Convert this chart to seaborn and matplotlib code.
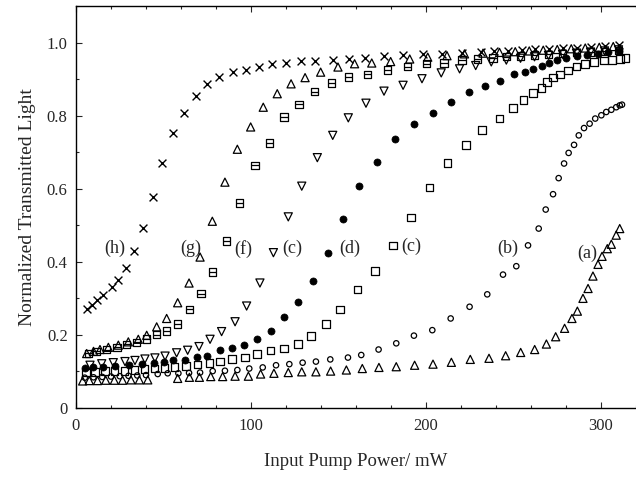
#!/usr/bin/env python3
# Normalized transmitted light vs input pump power, series (a)-(h)

import matplotlib
matplotlib.use("Agg")
import seaborn as sns
from matplotlib import pyplot as plt
from matplotlib import ticker as plticker
from matplotlib.path import Path

# -------------------------------------------------------------------
# DATA
# -------------------------------------------------------------------

# (h) crosses
h_x = [6.5, 9.0, 11.8, 15.6, 20.4, 24.2, 28.6, 33.3, 38.5, 43.8, 49.4, 55.6,
       61.9, 68.6, 75.0, 81.9, 89.5, 97.0, 104.6, 112.2, 119.8, 128.4, 136.6,
       146.9, 155.8, 165.0, 176.0, 186.9, 198.3, 209.3, 220.6, 231.6, 238.9,
       246.9, 255.0, 262.0, 270.0, 278.0, 286.0, 294.0, 302.0, 310.0]
h_y = [0.270, 0.281, 0.295, 0.309, 0.331, 0.350, 0.382, 0.429, 0.493, 0.577,
       0.670, 0.752, 0.807, 0.855, 0.887, 0.905, 0.919, 0.926, 0.933, 0.940,
       0.943, 0.949, 0.949, 0.953, 0.955, 0.958, 0.962, 0.966, 0.969, 0.969,
       0.971, 0.974, 0.976, 0.978, 0.979, 0.981, 0.983, 0.985, 0.986, 0.988,
       0.990, 0.992]

# (g) open triangles
g_x = [6.1, 10.0, 13.7, 18.5, 24.2, 29.9, 35.6, 40.4, 46.1, 51.8, 58.1, 64.6,
       70.9, 77.9, 85.1, 92.2, 99.8, 107.0, 115.0, 122.9, 130.9, 139.8, 149.7,
       159.2, 169.0, 179.8, 190.7, 201.0, 212.0, 222.0, 232.6, 242.0, 251.0,
       259.0, 267.0, 275.0, 283.0, 291.0, 299.0, 307.0]
g_y = [0.149, 0.155, 0.160, 0.166, 0.172, 0.181, 0.188, 0.199, 0.222, 0.245,
       0.288, 0.342, 0.413, 0.511, 0.618, 0.708, 0.769, 0.823, 0.860, 0.887,
       0.904, 0.919, 0.933, 0.942, 0.944, 0.948, 0.955, 0.960, 0.964, 0.969,
       0.971, 0.973, 0.975, 0.977, 0.979, 0.981, 0.983, 0.985, 0.987, 0.989]

# (f) boxed minus
f_x = [7.2, 11.8, 17.5, 23.4, 29.0, 34.6, 40.4, 46.1, 51.8, 58.1, 64.8, 71.4,
       77.9, 86.1, 93.3, 102.3, 110.5, 118.9, 127.4, 136.2, 145.9, 155.8,
       166.5, 177.9, 189.3, 200.2, 210.3, 220.6, 229.3, 238.3, 246.0, 254.0,
       262.0, 270.0, 278.0, 286.0, 294.0, 302.0, 310.0]
f_y = [0.150, 0.155, 0.160, 0.166, 0.174, 0.180, 0.189, 0.201, 0.211, 0.230,
       0.270, 0.313, 0.372, 0.457, 0.561, 0.664, 0.725, 0.796, 0.831, 0.866,
       0.889, 0.906, 0.913, 0.925, 0.934, 0.942, 0.944, 0.952, 0.955, 0.958,
       0.961, 0.963, 0.966, 0.968, 0.970, 0.972, 0.974, 0.976, 0.978]

# (c) left, down triangles
e_x = [8.0, 14.7, 21.3, 28.0, 33.7, 39.4, 45.1, 50.9, 57.5, 63.8, 70.3, 76.6,
       83.2, 90.9, 97.5, 105.1, 112.8, 121.3, 129.0, 137.9, 146.7, 155.6,
       165.7, 176.0, 186.9, 197.7, 208.7, 219.2, 228.4, 237.3, 245.9, 254.0,
       262.0, 270.0, 278.0, 286.0, 294.0, 302.0, 310.0]
e_y = [0.117, 0.121, 0.124, 0.127, 0.130, 0.134, 0.137, 0.142, 0.151, 0.158,
       0.168, 0.188, 0.209, 0.236, 0.279, 0.342, 0.425, 0.523, 0.607, 0.685,
       0.746, 0.794, 0.834, 0.867, 0.883, 0.901, 0.917, 0.928, 0.937, 0.947,
       0.952, 0.957, 0.961, 0.965, 0.968, 0.971, 0.974, 0.977, 0.980]

# (d) filled circles
d_x = [5.2, 9.9, 15.6, 22.3, 30.0, 37.8, 44.4, 50.0, 55.6, 62.3, 69.0, 75.0,
       82.3, 89.3, 96.0, 103.2, 111.2, 118.9, 126.6, 135.4, 143.8, 152.8,
       161.9, 172.2, 182.3, 193.1, 203.8, 214.1, 224.4, 233.9, 242.1, 250.0,
       256.4, 261.1, 266.0, 270.0, 275.0, 280.0, 286.0, 292.0, 298.0, 304.0,
       310.0]
d_y = [0.110, 0.113, 0.113, 0.115, 0.117, 0.120, 0.124, 0.127, 0.130, 0.132,
       0.139, 0.142, 0.158, 0.165, 0.172, 0.188, 0.211, 0.250, 0.290, 0.347,
       0.424, 0.518, 0.607, 0.673, 0.735, 0.776, 0.807, 0.838, 0.865, 0.880,
       0.896, 0.913, 0.919, 0.928, 0.937, 0.945, 0.952, 0.957, 0.962, 0.966,
       0.970, 0.973, 0.976]

# (c) right, open squares
c_x = [5.8, 10.7, 16.4, 22.0, 27.7, 33.4, 39.1, 44.8, 50.5, 56.2, 62.8, 69.5,
       76.2, 82.3, 89.3, 96.6, 103.6, 111.2, 119.0, 126.7, 134.3, 142.9, 150.9,
       160.8, 170.9, 181.0, 191.4, 201.9, 212.2, 222.7, 232.0, 242.1, 249.7,
       255.8, 261.1, 265.9, 269.3, 272.6, 276.4, 281.1, 285.9, 290.7, 296.0,
       301.7, 306.3, 310.7, 313.9]
c_y = [0.097, 0.098, 0.101, 0.101, 0.101, 0.104, 0.106, 0.108, 0.110, 0.113,
       0.115, 0.119, 0.123, 0.127, 0.134, 0.138, 0.147, 0.157, 0.163, 0.175,
       0.197, 0.230, 0.270, 0.324, 0.375, 0.445, 0.521, 0.603, 0.670, 0.719,
       0.761, 0.792, 0.821, 0.842, 0.862, 0.876, 0.892, 0.904, 0.913, 0.923,
       0.934, 0.942, 0.947, 0.951, 0.953, 0.955, 0.958]

# (b) small open circles
b_x = [5.0, 10.0, 15.0, 20.0, 25.0, 30.0, 35.0, 40.0, 46.7, 52.4, 58.5, 64.6,
       70.9, 78.1, 85.1, 92.2, 99.0, 106.7, 114.3, 121.9, 129.5, 137.1, 145.3,
       155.4, 163.0, 172.9, 183.0, 193.1, 203.6, 214.1, 224.9, 235.0, 244.0,
       251.6, 258.3, 264.4, 268.4, 272.6, 275.8, 278.9, 281.5, 284.6, 287.3,
       290.3, 293.5, 296.7, 300.2, 303.0, 305.9, 308.7, 310.7, 312.0]
b_y = [0.083, 0.084, 0.085, 0.086, 0.087, 0.088, 0.089, 0.090, 0.093, 0.095,
       0.095, 0.096, 0.097, 0.101, 0.102, 0.104, 0.108, 0.111, 0.117, 0.120,
       0.124, 0.127, 0.133, 0.138, 0.145, 0.160, 0.177, 0.198, 0.213, 0.245,
       0.277, 0.311, 0.365, 0.388, 0.445, 0.491, 0.543, 0.585, 0.629, 0.669,
       0.698, 0.720, 0.746, 0.766, 0.778, 0.792, 0.801, 0.810, 0.816, 0.823,
       0.828, 0.830]

# (a) open triangles
a_x = [3.8, 7.6, 12.3, 17.0, 21.9, 26.6, 31.4, 36.2, 41.0, 58.1, 64.8, 70.5,
       77.0, 83.8, 90.9, 98.5, 105.5, 113.1, 121.3, 129.0, 137.1, 145.5, 154.5,
       163.6, 173.1, 183.0, 193.5, 204.0, 214.5, 225.3, 236.0, 245.5, 254.1,
       262.1, 268.8, 274.1, 279.2, 283.4, 286.5, 289.7, 292.6, 295.4, 298.3,
       300.6, 303.6, 305.9, 308.7, 310.7]
a_y = [0.074, 0.075, 0.075, 0.076, 0.076, 0.076, 0.077, 0.077, 0.077, 0.081,
       0.084, 0.084, 0.086, 0.086, 0.087, 0.087, 0.093, 0.095, 0.097, 0.099,
       0.099, 0.101, 0.104, 0.108, 0.111, 0.113, 0.117, 0.120, 0.125, 0.133,
       0.136, 0.143, 0.152, 0.160, 0.175, 0.195, 0.218, 0.245, 0.265, 0.300,
       0.327, 0.361, 0.393, 0.415, 0.436, 0.448, 0.473, 0.491]

# curve labels: text, x, y
curve_labels = ["(h)", "(g)", "(f)", "(c)", "(d)", "(c)", "(b)", "(a)"]
label_x = [21.9, 65.7, 95.8, 123.8, 156.6, 191.8, 246.5, 292.2]
label_y = [0.436, 0.436, 0.436, 0.436, 0.436, 0.441, 0.436, 0.423]

x_ticks = [0, 100, 200, 300]
y_ticks = [0, 0.2, 0.4, 0.6, 0.8, 1.0]
y_tick_labels = ["0", "0.2", "0.4", "0.6", "0.8", "1.0"]

# -------------------------------------------------------------------
# PLOT
# -------------------------------------------------------------------

sns.set_style("ticks")
plt.rcParams["font.family"] = ["Liberation Serif", "DejaVu Serif"]

fig = plt.figure(figsize=(6.36, 4.79), dpi=100)
ax = fig.add_axes([76 / 636, 71 / 479, 560 / 636, 402 / 479])

# square with a horizontal bar through the middle
box_minus = Path(
    [(-1, -1), (1, -1), (1, 1), (-1, 1), (-1, -1), (-1, 0), (1, 0)],
    [Path.MOVETO, Path.LINETO, Path.LINETO, Path.LINETO, Path.CLOSEPOLY,
     Path.MOVETO, Path.LINETO],
)

open_kw = dict(facecolor="none", edgecolor="black", linewidth=0.9, ax=ax)

sns.scatterplot(x=a_x, y=a_y, marker="^", s=34, **open_kw)
sns.scatterplot(x=b_x, y=b_y, marker="o", s=15, **open_kw)
sns.scatterplot(x=c_x, y=c_y, marker="s", s=30, **open_kw)
sns.scatterplot(x=d_x, y=d_y, marker="o", s=26, color="black",
                edgecolor="black", linewidth=0.5, ax=ax)
sns.scatterplot(x=e_x, y=e_y, marker="v", s=34, **open_kw)
sns.scatterplot(x=f_x, y=f_y, marker=box_minus, s=28, **open_kw)
sns.scatterplot(x=g_x, y=g_y, marker="^", s=34, **open_kw)
sns.scatterplot(x=h_x, y=h_y, marker="x", s=32, color="black",
                linewidth=1.0, ax=ax)

for txt, lx, ly in zip(curve_labels, label_x, label_y):
    ax.text(lx, ly, txt, ha="center", va="center", fontsize=13)

ax.set_xlim(0, 320)
ax.set_ylim(0, 1.1)
ax.xaxis.set_major_locator(plticker.FixedLocator(x_ticks))
ax.xaxis.set_minor_locator(plticker.MultipleLocator(20))
ax.yaxis.set_major_locator(plticker.FixedLocator(y_ticks))
ax.yaxis.set_major_formatter(plticker.FixedFormatter(y_tick_labels))
ax.yaxis.set_minor_locator(plticker.MultipleLocator(0.1))

ax.tick_params(which="both", direction="in", top=True, width=0.8,
               labelsize=12)
ax.tick_params(which="major", length=4)
ax.tick_params(which="minor", length=2)
ax.tick_params(axis="x", pad=7)
ax.tick_params(axis="y", pad=6)

for side in ("left", "bottom", "top"):
    ax.spines[side].set_linewidth(1.0)
    ax.spines[side].set_color("black")
ax.spines["right"].set_visible(False)

ax.set_xlabel("Input Pump Power/ mW", fontsize=13.5, labelpad=14)
ax.set_ylabel("Normalized Transmitted Light", fontsize=14, labelpad=8)

fig.savefig("out.png", dpi=100)
